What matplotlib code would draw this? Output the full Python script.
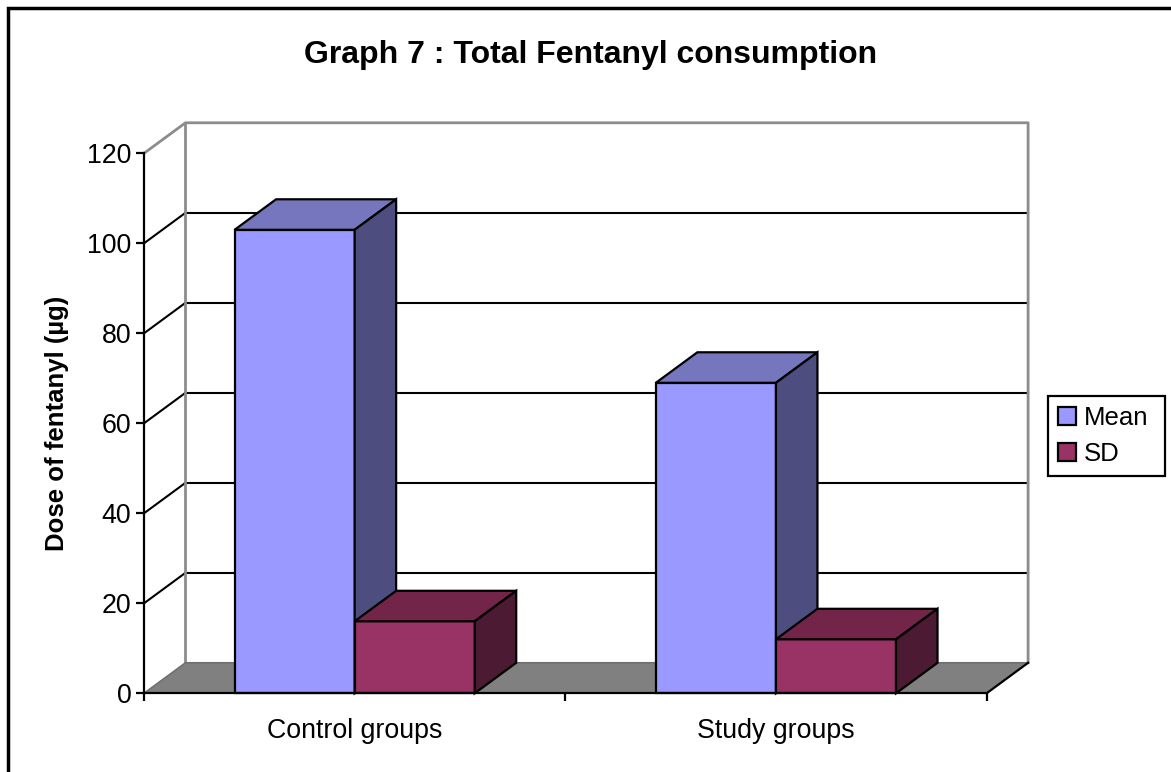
import matplotlib.pyplot as plt
from matplotlib.patches import Polygon, Rectangle, Patch

plt.rcParams['font.family'] = ['Liberation Sans', 'DejaVu Sans']

groups = ["Control groups", "Study groups"]
series = ["Mean", "SD"]
mean_dose = [103, 69]
sd_dose = [16, 12]
yticks = [0, 20, 40, 60, 80, 100, 120]

# face colours per series: front, top, side
faces = {
    "Mean": ("#9999FF", "#7676BE", "#4D4D80"),
    "SD": ("#993366", "#722549", "#4C1A33"),
}

W, H = 1171, 772
fig = plt.figure(figsize=(W / 100, H / 100), dpi=100)

# pseudo-3d depth of the plot box, in data units
DX = 0.0985
DY = 6.78
YMAX = 120
BAR_W = 0.285

# axes placed so the front plane spans 144..986 px and 0..120 -> 693..153 px
x0, y0 = 144, 693.3
px_per_cat, px_per_unit = 421.3, 4.5
ax_w = (2 + DX) * px_per_cat
ax_h = (YMAX + DY) * px_per_unit
ax = fig.add_axes([x0 / W, (H - y0) / H, ax_w / W, ax_h / H])
ax.set_xlim(0, 2 + DX)
ax.set_ylim(0, YMAX + DY)
ax.patch.set_visible(False)

wall = "#8C8C8C"
# back wall and side wall gridlines
for v in yticks[1:-1]:
    ax.plot([DX, 2 + DX], [v + DY, v + DY], color="black", lw=1.5, clip_on=False, zorder=1)
    ax.plot([0, DX], [v, v + DY], color="black", lw=1.5, clip_on=False, zorder=1)
ax.plot([0, DX, 2 + DX, 2 + DX], [YMAX, YMAX + DY, YMAX + DY, DY], color=wall, lw=2, clip_on=False, zorder=1)
ax.plot([DX, DX], [DY, YMAX + DY], color=wall, lw=2, clip_on=False, zorder=1)

# floor
ax.add_patch(Polygon([(0, 0), (DX, DY), (2 + DX, DY), (2, 0)], closed=True,
                     facecolor="#808080", edgecolor="none", clip_on=False, zorder=2))
ax.plot([0, DX, 2 + DX], [0, DY, DY], color="#707070", lw=1.2, clip_on=False, zorder=2)
ax.plot([2, 2 + DX], [0, DY], color="black", lw=1.6, clip_on=False, zorder=3)


def bar3d(x, h, name, z):
    front, top, side = faces[name]
    kw = dict(closed=True, edgecolor="black", lw=1.6, clip_on=False, zorder=z, joinstyle="miter")
    ax.add_patch(Polygon([(x, 0), (x + BAR_W, 0), (x + BAR_W, h), (x, h)], facecolor=front, **kw))
    ax.add_patch(Polygon([(x, h), (x + BAR_W, h), (x + BAR_W + DX, h + DY), (x + DX, h + DY)],
                         facecolor=top, **kw))
    ax.add_patch(Polygon([(x + BAR_W, 0), (x + BAR_W + DX, DY), (x + BAR_W + DX, h + DY), (x + BAR_W, h)],
                         facecolor=side, **kw))


z = 4
for i in range(len(groups)):
    c = i + 0.5
    bar3d(c - BAR_W, mean_dose[i], "Mean", z)
    bar3d(c, sd_dose[i], "SD", z + 1)
    z += 2

# front axes
for s in ["top", "right"]:
    ax.spines[s].set_visible(False)
ax.spines["left"].set_bounds(0, YMAX)
ax.spines["bottom"].set_bounds(0, 2)
ax.spines["left"].set_linewidth(1.6)
ax.spines["bottom"].set_linewidth(1.6)
ax.spines["left"].set_zorder(20)
ax.spines["bottom"].set_zorder(20)
ax.set_yticks(yticks)
ax.set_yticklabels([str(v) for v in yticks])
ax.tick_params(axis="y", direction="out", length=6, width=1.6, labelsize=19.3, pad=3)
ax.set_xticks([0, 1, 2])
ax.set_xticklabels([])
ax.tick_params(axis="x", which="major", direction="out", length=6, width=1.6)
ax.set_xticks([0.5, 1.5], minor=True)
ax.set_xticklabels(groups, minor=True)
ax.tick_params(axis="x", which="minor", length=0, labelsize=19.3, pad=18)

fig.text(57 / W, 1 - 423 / H, "Dose of fentanyl (µg)", rotation=90, fontsize=18.5,
         fontweight="bold", ha="center", va="center")
fig.text(591 / W, 1 - 55 / H, "Graph 7 : Total Fentanyl consumption", fontsize=23,
         fontweight="bold", ha="center", va="center")

handles = [Patch(facecolor=faces[n][0], edgecolor="black", lw=1.6) for n in series]
leg = fig.legend(handles, series, loc="upper left",
                 bbox_to_anchor=(1048 / W, 1 - 475 / H, 117 / W, 79 / H), mode="expand",
                 borderaxespad=0, fancybox=False, edgecolor="black", framealpha=1,
                 fontsize=18.5, handlelength=0.7, handleheight=0.7, handletextpad=0.3,
                 borderpad=0.4, labelspacing=0.45)
leg.get_frame().set_linewidth(1.6)

# chart border (left and top edges show)
fig.patches.append(Rectangle((8 / W, -0.1), 1.2, 1.1 - 8 / H, transform=fig.transFigure,
                             fill=False, edgecolor="black", lw=2.5))

fig.savefig("out.png", dpi=100)
